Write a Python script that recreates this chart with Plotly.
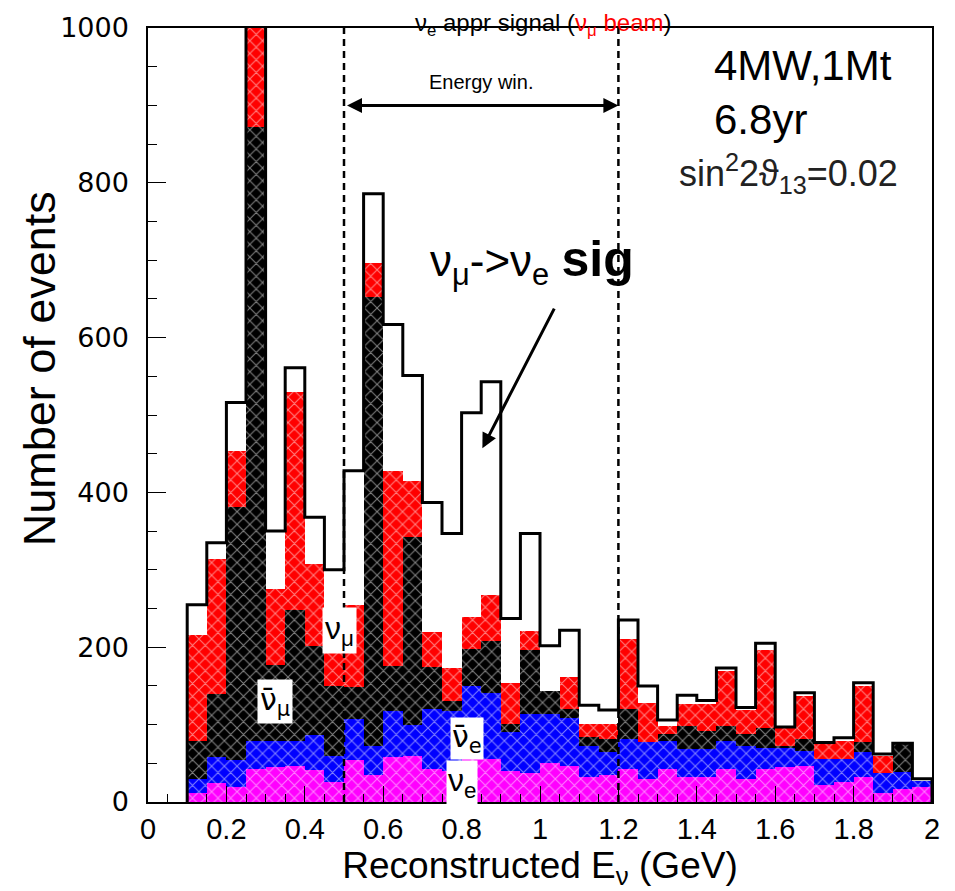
import plotly.graph_objects as go

# bins: 0.10 .. 2.00 GeV, width 0.05
bin_lo = 0.10
bin_w = 0.05
n_bins = 38

# component counts per bin (stacked bottom -> top)
nue = [12, 24, 20, 43, 45, 47, 41, 26, 54, 35, 58, 60, 43, 40, 55, 56, 40, 37, 50,
       47, 32, 35, 43, 30, 43, 32, 32, 43, 30, 42, 45, 47, 22, 26, 32, 11, 17, 20]
nuebar = [18, 34, 34, 36, 34, 32, 45, 34, 53, 38, 60, 40, 77, 78, 95, 85, 50, 77, 64,
          62, 41, 29, 38, 47, 36, 37, 37, 36, 43, 28, 26, 19, 34, 30, 32, 26, 22, 8]
numubar = [49, 81, 327, 793, 98, 169, 115, 90, 41, 580, 58, 243, 54, 12, 48, 67, 11, 83, 30,
           11, 11, 17, 39, 0, 9, 29, 23, 19, 15, 26, 1, 15, 0, 0, 13, 0, 37, 0]
numu = [137, 175, 73, 228, 98, 282, 107, 96, 106, 43, 252, 72, 45, 43, 41, 60, 53, 24, 0,
        42, 17, 20, 91, 51, 10, 29, 34, 71, 32, 101, 24, 56, 19, 23, 73, 23, 0, 0]
signal = [39, 21, 62, 60, 75, 31, 60, 54, 174, 90, 189, 136, 168, 174, 264, 275, 83, 126, 58,
          60, 24, 18, 24, 22, 8, 11, 5, 4, 2, 8, 1, 4, 2, 4, 4, 2, 0, 2]

x_ticks = [0, 0.2, 0.4, 0.6, 0.8, 1.0, 1.2, 1.4, 1.6, 1.8, 2.0]
x_ticklabels = ["0", "0.2", "0.4", "0.6", "0.8", "1", "1.2", "1.4", "1.6", "1.8", "2"]
y_ticks = [0, 200, 400, 600, 800, 1000]

e_window = [0.5, 1.2]

centers = [bin_lo + bin_w * (i + 0.5) for i in range(n_bins)]
edges = [bin_lo + bin_w * i for i in range(n_bins + 1)]

FONT = "Liberation Sans"

fig = go.Figure()

layers = [
    (nue, "#ff00ff"),
    (nuebar, "#0000ff"),
    (numubar, "#000000"),
    (numu, "#ff0000"),
]
for vals, col in layers:
    fig.add_trace(go.Bar(
        x=centers, y=vals, width=bin_w,
        marker=dict(color=col, line=dict(width=0),
                    pattern=dict(shape="x", fgcolor="white", bgcolor=col,
                                 size=9, solidity=0.22, fillmode="overlay")),
        showlegend=False, hoverinfo="skip"))

fig.add_trace(go.Bar(
    x=centers, y=signal, width=bin_w,
    marker=dict(color="white", line=dict(width=0)),
    showlegend=False, hoverinfo="skip"))

# total outline (step)
totals = [a + b + c + d + e for a, b, c, d, e in zip(nue, nuebar, numubar, numu, signal)]
xs = [edges[0]] + edges[:-1] + [edges[-1], edges[-1]]
ys = [0] + totals + [totals[-1], 0]
fig.add_trace(go.Scatter(x=xs, y=ys, mode="lines", line=dict(color="black", width=3, shape="hv"),
                         showlegend=False, hoverinfo="skip"))

fig.update_layout(
    barmode="stack", bargap=0,
    width=955, height=891,
    margin=dict(l=148, r=23, t=20, b=89),
    plot_bgcolor="white", paper_bgcolor="white",
    font=dict(family=FONT, color="black"),
)

fig.update_xaxes(
    range=[0, 2], showgrid=False, zeroline=False,
    showline=True, mirror=True, linecolor="black", linewidth=1.5,
    ticks="inside", ticklen=16, tickwidth=1.2, tickcolor="black",
    tickvals=x_ticks, ticktext=x_ticklabels,
    tickfont=dict(size=29, family=FONT),
    minor=dict(ticks="inside", dtick=0.05, ticklen=8, tickcolor="black", tickwidth=1),
    title=dict(text="Reconstructed E<sub>ν</sub> (GeV)", font=dict(size=37, family=FONT), standoff=2),
)
fig.update_yaxes(
    range=[0, 1000], showgrid=False, zeroline=False,
    showline=True, mirror=True, linecolor="black", linewidth=1.5,
    ticks="inside", ticklen=18, tickwidth=1.2, tickcolor="black",
    tickvals=y_ticks, ticklabelstandoff=12,
    tickfont=dict(size=27, family="DejaVu Sans"),
    minor=dict(ticks="inside", dtick=50, ticklen=9, tickcolor="black", tickwidth=1),
)

# y-axis title
fig.add_annotation(x=-0.138, y=0.56, xref="paper", yref="paper", xanchor="center", yanchor="middle",
                   text="Number of events", textangle=-90, showarrow=False,
                   font=dict(size=45, family=FONT))

# energy window dashed lines
for xv in e_window:
    fig.add_shape(type="line", x0=xv, x1=xv, y0=0, y1=1000, xref="x", yref="y",
                  line=dict(color="black", width=2.5, dash="7px,5px"))

fig.add_annotation(x=e_window[1], y=900, ax=e_window[0], ay=900, xref="x", yref="y",
                   axref="x", ayref="y", showarrow=True, arrowhead=2, startarrowhead=2,
                   arrowside="end+start", arrowwidth=3, arrowsize=1, arrowcolor="black", text=" ")
fig.add_annotation(x=0.85, y=930, xref="x", yref="y", text="Energy win.",
                   showarrow=False, font=dict(size=20, family=FONT))

# signal label and arrow
fig.add_annotation(x=0.853, y=457, ax=1.044, ay=645, xref="x", yref="y", axref="x", ayref="y",
                   showarrow=True, arrowhead=2, arrowwidth=3, arrowsize=1, arrowcolor="black", text=" ")
fig.add_annotation(x=0.98, y=698, xref="x", yref="y", xanchor="center",
                   text="<span style='font-size:44px'>ν<sub>μ</sub>->ν<sub>e</sub></span> <b><span style='font-size:50px'>sig</span></b>",
                   showarrow=False, font=dict(size=44, family=FONT))

# component labels
lab_font = dict(size=32, family=FONT)
bar_font = dict(size=30, family="DejaVu Sans")
bar_nu = "ν\u0304"
fig.add_annotation(x=0.489, y=221, xref="x", yref="y", text="ν<sub>μ</sub>", showarrow=False,
                   bgcolor="white", font=lab_font, borderpad=2)
fig.add_annotation(x=0.324, y=130, xref="x", yref="y", text=bar_nu + "<sub>μ</sub>", showarrow=False,
                   bgcolor="white", font=bar_font, borderpad=2)
fig.add_annotation(x=0.815, y=82, xref="x", yref="y", text=bar_nu + "<sub>e</sub>", showarrow=False,
                   bgcolor="white", font=bar_font, borderpad=1)
fig.add_annotation(x=0.80, y=25, xref="x", yref="y", text="ν<sub>e</sub>", showarrow=False,
                   bgcolor="white", font=lab_font, borderpad=1)

# top-right info
fig.add_annotation(x=1.44, y=952, xref="x", yref="y", xanchor="left", text="4MW,1Mt",
                   showarrow=False, font=dict(size=42, family=FONT))
fig.add_annotation(x=1.44, y=882, xref="x", yref="y", xanchor="left", text="6.8yr",
                   showarrow=False, font=dict(size=42, family=FONT))
fig.add_annotation(x=1.918, y=812, xref="x", yref="y", xanchor="right",
                   text="sin<sup>2</sup>2ϑ<sub>13</sub>=0.02",
                   showarrow=False, font=dict(size=36, family=FONT, color="#222222"))

# title at top
fig.add_annotation(x=(543 - 148) / (932 - 148), xref="paper", y=1 + 20 / 782, yref="paper", yanchor="top",
                   text="ν<sub>e</sub> appr signal (<span style='color:red'>ν<sub>μ</sub> beam</span>)",
                   showarrow=False, font=dict(size=24, family=FONT), borderpad=0)

fig.write_html("out.html")
